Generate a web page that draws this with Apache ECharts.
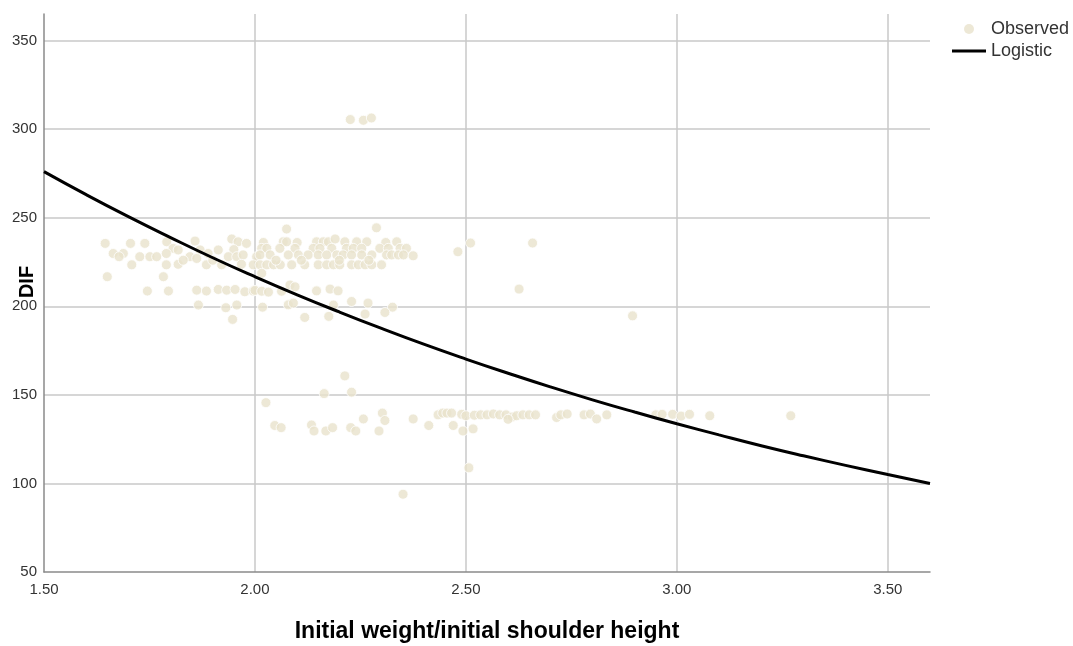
<!DOCTYPE html>
<html>
<head>
<meta charset="utf-8">
<script src="https://cdn.jsdelivr.net/npm/echarts@6/dist/echarts.min.js"></script>
<style>
  html, body { margin: 0; padding: 0; background: #fff; }
  #chart { width: 1073px; height: 646px; }
</style>
</head>
<body>
<div id="chart"></div>
<script>
// Observed points: ratio (x) and DIF (y)
const obsX = [
  1.645, 1.705, 1.739, 1.791, 1.858, 1.945, 1.960, 1.980, 2.067, 2.075, 2.146, 2.162, 2.174, 2.213, 2.241, 2.265, 2.336, 2.075, 2.288, 2.020, 2.100, 2.190, 2.310,
  1.806, 1.818, 1.870, 1.913, 2.016, 2.028, 2.059, 2.095, 2.138, 2.154, 2.182, 2.217, 2.233, 2.253, 2.296, 2.316, 2.344, 2.359, 1.950,
  1.664, 1.688, 1.678, 1.727, 1.751, 1.767, 1.790, 1.846, 1.862, 1.889, 1.937, 1.957, 1.972, 2.004, 2.012, 2.036, 2.079, 2.103, 2.126, 2.150, 2.170, 2.194, 2.209, 2.229, 2.253, 2.277, 2.312, 2.324, 2.340, 2.352, 2.375,
  1.708, 1.790, 1.818, 1.885, 1.921, 1.968, 1.996, 2.012, 2.028, 2.044, 2.060, 2.087, 2.118, 2.150, 2.170, 2.186, 2.201, 2.229, 2.245, 2.261, 2.277, 2.300, 1.830, 1.900, 2.050, 2.110, 2.200, 2.270,
  1.650, 1.783, 2.016,
  1.745, 1.795, 1.862, 1.885, 1.913, 1.933, 1.953, 1.976, 1.996, 2.000, 2.016, 2.032, 2.063, 2.083, 2.095, 2.146, 2.178, 2.197,
  1.866, 1.931, 1.957, 2.018, 2.079, 2.091, 2.186, 2.229, 2.268, 2.326,
  1.947, 2.118, 2.175, 2.261, 2.308,
  2.226, 2.257, 2.276, 2.481, 2.511, 2.658, 2.626, 2.895,
  2.213, 2.164, 2.229, 2.026, 2.047, 2.062, 2.134, 2.140, 2.168, 2.184, 2.227, 2.239, 2.257, 2.302, 2.308, 2.294, 2.375, 2.412, 2.351,
  2.434, 2.445, 2.455, 2.466, 2.470, 2.493, 2.517, 2.507, 2.490, 2.500, 2.520, 2.535, 2.550, 2.565, 2.580, 2.595, 2.610, 2.620, 2.635, 2.650, 2.665, 2.600,
  2.715, 2.725, 2.740, 2.780, 2.795, 2.810, 2.834, 2.950, 2.965, 2.990, 3.010, 3.030, 3.078, 3.270
];
const obsY = [
  235.5, 235.5, 235.5, 236.4, 236.8, 238.0, 236.4, 235.5, 236.4, 236.4, 236.4, 236.4, 236.4, 236.4, 236.4, 236.4, 236.4, 243.6, 244.3, 236.0, 236.0, 238.0, 236.0,
  232.7, 231.8, 231.8, 231.8, 232.7, 232.7, 232.7, 232.7, 232.7, 232.7, 232.7, 232.7, 232.7, 232.7, 232.7, 232.7, 232.7, 232.7, 232.0,
  229.8, 229.8, 228.0, 228.0, 228.0, 228.0, 229.8, 228.0, 227.0, 229.8, 228.0, 228.0, 229.0, 228.0, 229.0, 229.0, 229.0, 229.0, 229.0, 229.0, 229.0, 229.0, 229.0, 229.0, 229.0, 229.0, 229.0, 229.0, 229.0, 229.0, 228.5,
  223.4, 223.4, 223.7, 223.4, 223.4, 223.7, 223.4, 223.4, 223.4, 223.4, 223.4, 223.4, 223.4, 223.4, 223.4, 223.4, 223.4, 223.4, 223.4, 223.4, 223.4, 223.4, 226.0, 226.0, 226.0, 226.0, 226.0, 226.0,
  216.7, 216.7, 218.6,
  208.6, 208.6, 209.1, 208.6, 209.5, 209.1, 209.5, 208.2, 208.6, 209.0, 208.5, 208.0, 208.5, 212.0, 211.0, 208.7, 209.7, 208.7,
  200.7, 199.2, 200.7, 199.5, 200.8, 201.8, 200.7, 202.7, 201.8, 199.5,
  192.6, 193.7, 194.3, 195.6, 196.5,
  305.4, 305.0, 306.3, 230.8, 235.7, 235.7, 209.7, 194.6,
  160.7, 150.7, 151.5, 145.6, 132.7, 131.5, 133.0, 129.6, 129.6, 131.5, 131.5, 129.6, 136.4, 139.7, 135.5, 129.6, 136.4, 132.7, 93.9,
  138.7, 139.7, 139.7, 139.7, 132.7, 129.6, 130.8, 108.8, 139.0, 138.2, 138.5, 138.7, 138.7, 139.2, 138.7, 138.7, 137.5, 138.2, 138.7, 138.7, 138.7, 136.2,
  137.2, 138.7, 139.2, 138.7, 139.2, 136.4, 138.7, 138.7, 139.0, 139.0, 138.0, 139.0, 138.2, 138.2
];

// Fitted logistic curve, sampled along x
const curveX = [1.5, 1.6, 1.7, 1.8, 1.9, 2.0, 2.1, 2.2, 2.3, 2.4, 2.5, 2.6, 2.7, 2.8, 2.9, 3.0, 3.1, 3.2, 3.3, 3.4, 3.5, 3.6];
const curveY = [276.0, 263.0, 250.6, 238.8, 227.4, 216.7, 206.5, 196.8, 187.5, 178.6, 170.2, 162.2, 154.5, 147.2, 140.3, 133.7, 127.4, 121.3, 115.6, 110.2, 105.0, 100.0];

const observed = obsX.map((x, i) => [x, obsY[i]]);
const logistic = curveX.map((x, i) => [x, curveY[i]]);

const chart = echarts.init(document.getElementById('chart'), null, { renderer: 'canvas' });
const font = 'Liberation Sans, Arial, sans-serif';
const pointColor = '#E9E2CC';

const legendText = { fontFamily: font, fontSize: 18, color: '#333' };

chart.setOption({
  animation: false,
  backgroundColor: '#ffffff',
  textStyle: { fontFamily: font },
  grid: { left: 44, right: 143, top: 14, bottom: 74, containLabel: false, outerBoundsMode: 'none' },
  legend: [
    {
      left: 959,
      top: 15,
      itemWidth: 34,
      itemHeight: 10,
      itemGap: 5,
      textStyle: legendText,
      data: [{ name: 'Observed', icon: 'circle', itemStyle: { color: pointColor, borderWidth: 0 } }]
    },
    {
      left: 947,
      top: 37,
      itemWidth: 34,
      itemHeight: 3,
      itemGap: 5,
      textStyle: legendText,
      data: [{ name: 'Logistic', icon: 'rect', itemStyle: { color: '#000' } }]
    }
  ],
  xAxis: {
    type: 'value',
    min: 1.5,
    max: 3.6,
    interval: 0.5,
    name: 'Initial weight/initial shoulder height',
    nameLocation: 'middle',
    nameGap: 48,
    nameMoveOverlap: false,
    nameTextStyle: { fontFamily: font, fontSize: 23, fontWeight: 'bold', color: '#000' },
    axisLine: { show: true, onZero: false, lineStyle: { color: '#8a8a8a', width: 1.5 } },
    axisTick: { show: false },
    axisLabel: {
      showMaxLabel: false,
      margin: 10,
      fontSize: 15,
      color: '#333',
      formatter: v => v.toFixed(2)
    },
    splitLine: { show: true, showMinLine: false, showMaxLine: false, lineStyle: { color: '#c8c8c8', width: 1.5 } }
  },
  yAxis: {
    type: 'value',
    min: 50,
    max: 365,
    interval: 50,
    name: 'DIF',
    nameLocation: 'middle',
    nameGap: 7,
    nameMoveOverlap: false,
    nameRotate: 90,
    nameTextStyle: { fontFamily: font, fontSize: 20, fontWeight: 'bold', color: '#000', padding: [0, 0, 0, 22] },
    axisLine: { show: true, onZero: false, lineStyle: { color: '#8a8a8a', width: 1.5 } },
    axisTick: { show: false },
    axisLabel: {
      showMaxLabel: false,
      margin: 7,
      fontSize: 15,
      color: '#333'
    },
    splitLine: { show: true, showMinLine: false, showMaxLine: false, lineStyle: { color: '#c8c8c8', width: 1.5 } }
  },
  series: [
    {
      name: 'Observed',
      type: 'scatter',
      data: observed,
      symbol: 'circle',
      symbolSize: 10,
      itemStyle: { color: pointColor, borderColor: '#ffffff', borderWidth: 1 },
      z: 2
    },
    {
      name: 'Logistic',
      type: 'line',
      data: logistic,
      smooth: true,
      showSymbol: false,
      symbol: 'none',
      lineStyle: { color: '#000000', width: 3 },
      itemStyle: { color: '#000000' },
      z: 3
    }
  ]
});
</script>
</body>
</html>
